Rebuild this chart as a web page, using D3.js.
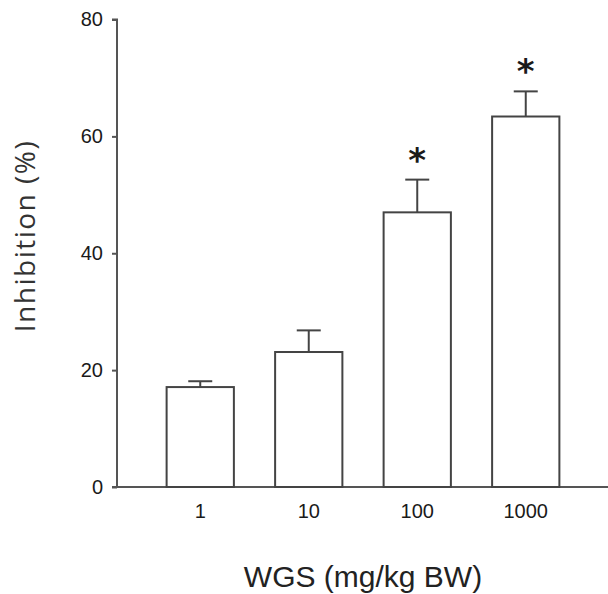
<!DOCTYPE html>
<html>
<head>
<meta charset="utf-8">
<script src="https://cdn.jsdelivr.net/npm/d3@7"></script>
<style>
  body { margin: 0; background: #fff; }
  svg { display: block; }
</style>
</head>
<body>
<script>
// values
const doses = ["1", "10", "100", "1000"];
const inhibition = [17.1, 23.1, 47.0, 63.4];
const sem = [1.0, 3.7, 5.6, 4.3];
const significant = [false, false, true, true];
const yTicks = [0, 20, 40, 60, 80];

let width = 608,
    height = 594;

const svg = d3.select("body")
    .append("svg")
    .attr("width", width)
    .attr("height", height);

const yScale = d3.scaleLinear()
    .domain([0, 80])
    .range([487, 19.5]);

const xScale = d3.scaleBand()
    .domain(doses)
    .range([146, 580])
    .paddingInner(0.38)
    .paddingOuter(0.19);

const axisColor = "#555";
const barColor = "#444";
const tickFont = "'Liberation Sans', Arial, sans-serif";

// y axis
const yAxis = svg.append("g")
    .attr("transform", "translate(117,0)")
    .call(d3.axisLeft(yScale).tickValues(yTicks).tickSize(5).tickPadding(9));
yAxis.select(".domain").attr("stroke", axisColor).attr("stroke-width", 2)
    .attr("d", "M-5," + yScale(80) + "H0V" + yScale(0));
yAxis.selectAll(".tick line").attr("stroke", axisColor).attr("stroke-width", 2);
yAxis.selectAll(".tick text")
    .attr("fill", "#1a1a1a")
    .style("font-family", tickFont)
    .style("font-size", "20px");

// x axis (no ticks, line runs past the last bar)
const xAxis = svg.append("g")
    .attr("transform", "translate(0," + yScale(0) + ")")
    .call(d3.axisBottom(xScale).tickSize(0).tickPadding(17));
xAxis.select(".domain").attr("stroke", axisColor).attr("stroke-width", 2)
    .attr("d", "M112,0H610");
xAxis.selectAll(".tick text")
    .attr("fill", "#1a1a1a")
    .style("font-family", tickFont)
    .style("font-size", "20px");

// bars
svg.selectAll("rect.bar")
    .data(doses)
    .enter()
    .append("rect")
    .attr("class", "bar")
    .attr("x", d => xScale(d))
    .attr("y", (d, i) => yScale(inhibition[i]))
    .attr("width", xScale.bandwidth())
    .attr("height", (d, i) => yScale(0) - yScale(inhibition[i]))
    .attr("fill", "#fff")
    .attr("stroke", barColor)
    .attr("stroke-width", 2);

// error bars (upper only)
const cx = d => xScale(d) + xScale.bandwidth() / 2;
svg.selectAll("line.err")
    .data(doses)
    .enter()
    .append("line")
    .attr("x1", cx).attr("x2", cx)
    .attr("y1", (d, i) => yScale(inhibition[i]))
    .attr("y2", (d, i) => yScale(inhibition[i] + sem[i]))
    .attr("stroke", barColor)
    .attr("stroke-width", 2);
svg.selectAll("line.cap")
    .data(doses)
    .enter()
    .append("line")
    .attr("x1", d => cx(d) - 12).attr("x2", d => cx(d) + 12)
    .attr("y1", (d, i) => yScale(inhibition[i] + sem[i]))
    .attr("y2", (d, i) => yScale(inhibition[i] + sem[i]))
    .attr("stroke", barColor)
    .attr("stroke-width", 2);

// significance stars
svg.selectAll("text.star")
    .data(doses.filter((d, i) => significant[i]))
    .enter()
    .append("text")
    .attr("x", cx)
    .attr("y", d => {
        const i = doses.indexOf(d);
        return yScale(inhibition[i] + sem[i]) - 8;
    })
    .attr("text-anchor", "middle")
    .attr("fill", "#1a1a1a")
    .style("font-family", "'DejaVu Sans', sans-serif")
    .style("font-weight", "bold")
    .style("font-size", "34px")
    .text("*");

// axis titles
svg.append("text")
    .attr("x", 363)
    .attr("y", 587)
    .attr("text-anchor", "middle")
    .attr("fill", "#222")
    .style("font-family", "'Liberation Sans', Arial, sans-serif")
    .style("font-size", "30px")
    .text("WGS (mg/kg BW)");

svg.append("text")
    .attr("transform", "translate(35,236) rotate(-90)")
    .attr("text-anchor", "middle")
    .attr("fill", "#333")
    .style("font-family", "'Open Sans', sans-serif")
    .style("font-size", "28px")
    .style("letter-spacing", "1.5px")
    .text("Inhibition (%)");
</script>
</body>
</html>
